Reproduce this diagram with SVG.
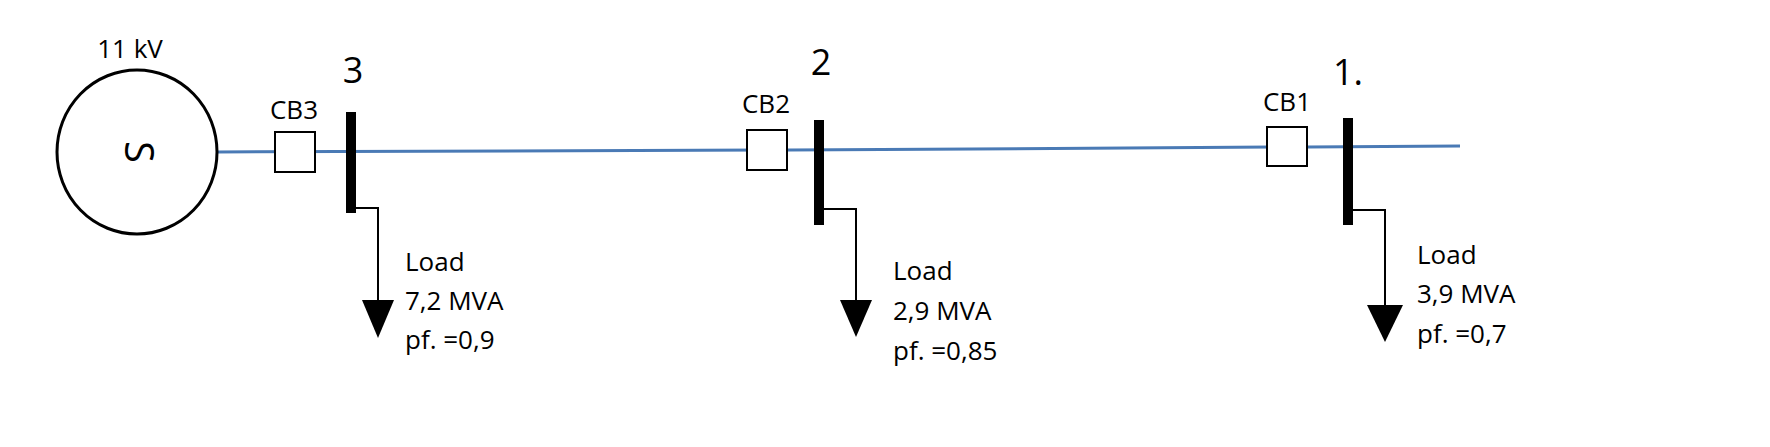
<svg xmlns="http://www.w3.org/2000/svg" width="1770" height="447" viewBox="0 0 1770 447">
<style>
text{font-family:"Open Sans","Liberation Sans",sans-serif;fill:#000}
.lbl{font-size:26px}
.num{font-size:36px}
.cb{fill:#fff;stroke:#000;stroke-width:2}
.bus{fill:#000}
.ld{fill:none;stroke:#000;stroke-width:2}
</style>
<rect width="1770" height="447" fill="#fff"/>
<g id="connectors">
<polyline points="217,152 790,150 1460,146" fill="none" stroke="#4a7ab5" stroke-width="3"/>
<polyline class="ld" points="355,208 378,208 378,302"/>
<polygon points="362,300 394,300 378,338"/>
<polyline class="ld" points="823,209 856,209 856,302"/>
<polygon points="840,300 872,300 856,337"/>
<polyline class="ld" points="1352,210 1385,210 1385,307"/>
<polygon points="1367,305 1403,305 1385,342"/>
</g>
<g id="source">
<ellipse cx="137" cy="152" rx="80" ry="82" fill="#fff" stroke="#000" stroke-width="3"/>
<text transform="translate(125,152) rotate(90)" text-anchor="middle" font-size="40">S</text>
<text class="lbl" x="130" y="58" text-anchor="middle">11 kV</text>
</g>
<g id="cb3"><rect class="cb" x="275" y="132" width="40" height="40"/><text class="lbl" x="294" y="119" text-anchor="middle">CB3</text></g>
<g id="bus3"><rect class="bus" x="346" y="112" width="10" height="101"/><text class="num" x="353" y="83" text-anchor="middle">3</text></g>
<g id="load3"><text class="lbl" x="405" y="271">Load</text><text class="lbl" x="405" y="310">7,2 MVA</text><text class="lbl" x="405" y="349">pf. =0,9</text></g>
<g id="cb2"><rect class="cb" x="747" y="130" width="40" height="40"/><text class="lbl" x="766" y="113" text-anchor="middle">CB2</text></g>
<g id="bus2"><rect class="bus" x="814" y="120" width="10" height="105"/><text class="num" x="821" y="75" text-anchor="middle">2</text></g>
<g id="load2"><text class="lbl" x="893" y="280">Load</text><text class="lbl" x="893" y="320">2,9 MVA</text><text class="lbl" x="893" y="360">pf. =0,85</text></g>
<g id="cb1"><rect class="cb" x="1267" y="127" width="40" height="39"/><text class="lbl" x="1287" y="111" text-anchor="middle">CB1</text></g>
<g id="bus1"><rect class="bus" x="1343" y="118" width="10" height="107"/><text class="num" x="1348" y="85" text-anchor="middle">1.</text></g>
<g id="load1"><text class="lbl" x="1417" y="264">Load</text><text class="lbl" x="1417" y="303">3,9 MVA</text><text class="lbl" x="1417" y="343">pf. =0,7</text></g>
</svg>
